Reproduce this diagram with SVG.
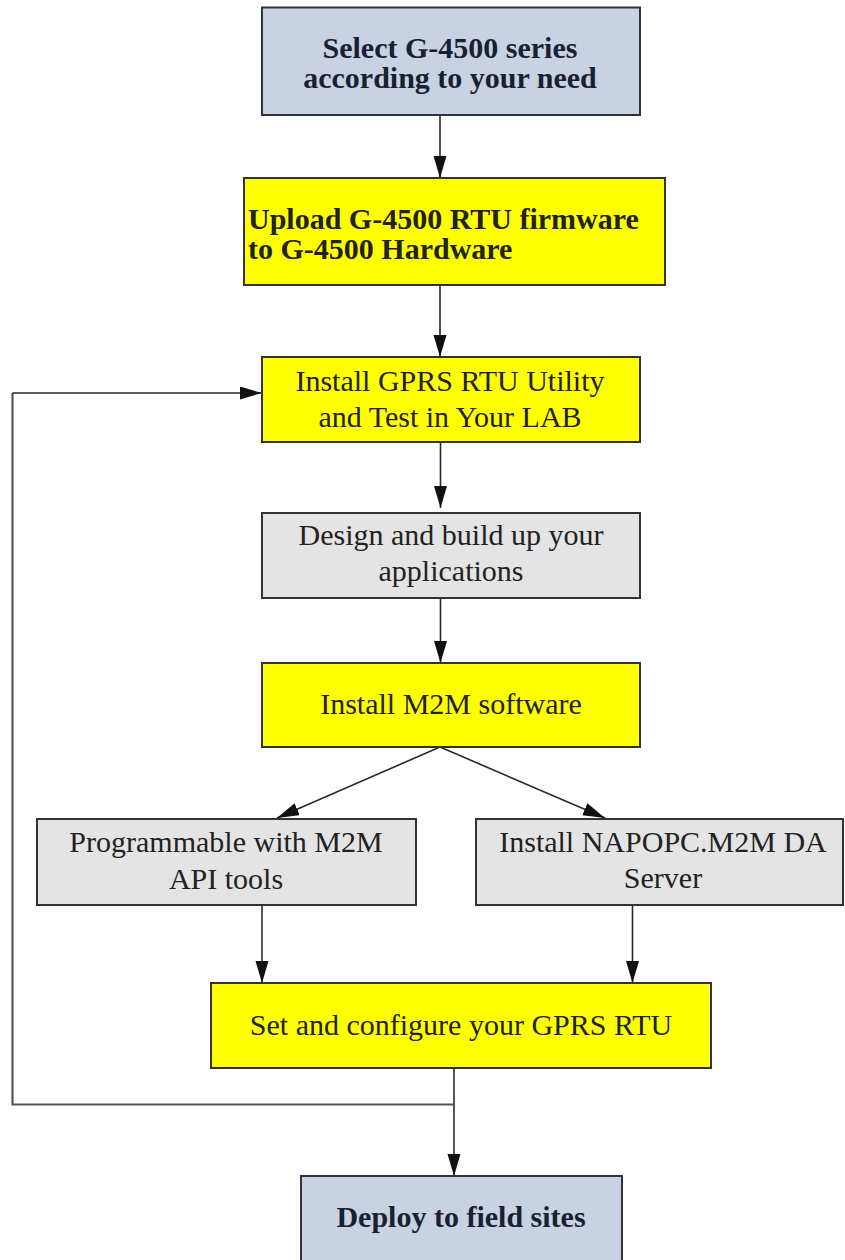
<svg xmlns="http://www.w3.org/2000/svg" width="845" height="1260" viewBox="0 0 845 1260">
<defs>
<style>
.box{stroke:#333;stroke-width:2}
.blue{fill:#C8D2E2}
.yel{fill:#FFFF00}
.gray{fill:#E4E4E4}
text{font-family:"Liberation Serif","Times New Roman",serif;font-size:30px;fill:#222}
.b{font-weight:bold}
.c{text-anchor:middle}
.nv{fill:#1a1f33}
.con{fill:none;stroke:#2a2a2a;stroke-width:1.6}
.loop{fill:none;stroke:#555;stroke-width:2.2}
</style>
<marker id="ah" markerUnits="userSpaceOnUse" markerWidth="22" markerHeight="14" refX="22" refY="6.5" orient="auto">
<path d="M0,0 L22,6.5 L0,13 z" fill="#111"/>
</marker>
</defs>
<rect width="845" height="1260" fill="#fff"/>
<g id="connectors">
<line class="con" x1="440" y1="115" x2="440" y2="178" marker-end="url(#ah)"/>
<line class="con" x1="440" y1="285" x2="440" y2="357" marker-end="url(#ah)"/>
<line class="con" x1="440.5" y1="442" x2="440.5" y2="508" marker-end="url(#ah)"/>
<line class="con" x1="440.5" y1="598" x2="440.5" y2="663" marker-end="url(#ah)"/>
<line class="con" x1="440" y1="747" x2="277" y2="818" marker-end="url(#ah)"/>
<line class="con" x1="440" y1="747" x2="605" y2="818" marker-end="url(#ah)"/>
<line class="con" x1="262" y1="905" x2="262" y2="983" marker-end="url(#ah)"/>
<line class="con" x1="632.5" y1="905" x2="632.5" y2="983" marker-end="url(#ah)"/>
<line class="con" x1="454" y1="1068" x2="454" y2="1176" marker-end="url(#ah)"/>
<polyline class="loop" points="454,1104.5 12.5,1104.5 12.5,393"/>
<line class="con" x1="12.5" y1="393" x2="262" y2="393" marker-end="url(#ah)"/>
</g>
<g id="n1">
<rect class="box blue" x="262" y="7.5" width="378" height="107.5"/>
<text class="b c nv" x="450" y="58"><tspan x="450">Select G-4500 series</tspan><tspan x="450" dy="30">according to your need</tspan></text>
</g>
<g id="n2">
<rect class="box yel" x="244" y="178" width="421" height="107"/>
<text class="b" x="248" y="229"><tspan x="248">Upload G-4500 RTU firmware</tspan><tspan x="248" dy="30">to G-4500 Hardware</tspan></text>
</g>
<g id="n3">
<rect class="box yel" x="262" y="357" width="378" height="85"/>
<text class="c" x="450" y="391"><tspan x="450">Install GPRS RTU Utility</tspan><tspan x="450" dy="36">and Test in Your LAB</tspan></text>
</g>
<g id="n4">
<rect class="box gray" x="262" y="513" width="378" height="85"/>
<text class="c" x="451" y="545"><tspan x="451">Design and build up your</tspan><tspan x="451" dy="36">applications</tspan></text>
</g>
<g id="n5">
<rect class="box yel" x="262" y="663" width="378" height="84"/>
<text class="c" x="451" y="714">Install M2M software</text>
</g>
<g id="n6">
<rect class="box gray" x="37" y="819" width="379" height="86"/>
<text class="c" x="226" y="852"><tspan x="226">Programmable with M2M</tspan><tspan x="226" dy="37">API tools</tspan></text>
</g>
<g id="n7">
<rect class="box gray" x="476" y="819" width="367" height="86"/>
<text class="c" x="663" y="852"><tspan x="663">Install NAPOPC.M2M DA</tspan><tspan x="663" dy="36">Server</tspan></text>
</g>
<g id="n8">
<rect class="box yel" x="211" y="983" width="500" height="85"/>
<text class="c" x="461" y="1035">Set and configure your GPRS RTU</text>
</g>
<g id="n9">
<rect class="box blue" x="301" y="1176" width="321" height="90"/>
<text class="b c nv" x="461" y="1227">Deploy to field sites</text>
</g>
</svg>
